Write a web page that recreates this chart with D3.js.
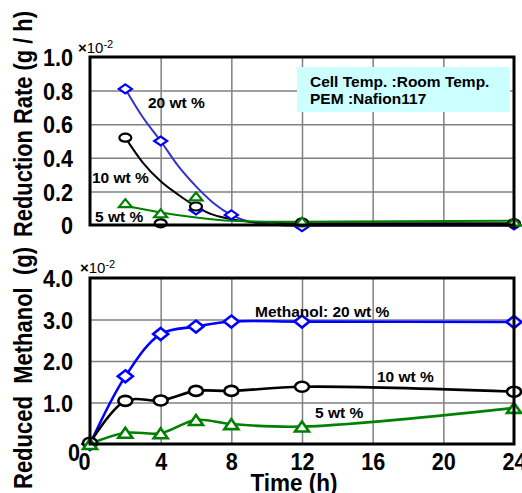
<!DOCTYPE html>
<html>
<head>
<meta charset="utf-8">
<script src="https://cdn.jsdelivr.net/npm/d3@7"></script>
<style>
  body { margin: 0; background: #fff; }
  svg text { font-family: "Liberation Sans", Arial, sans-serif; font-weight: bold; fill: #000; }
</style>
</head>
<body>
<svg class="chart" width="522" height="493"></svg>
<script>
// data (values in units of 10^-2)
let xTicks = [0, 4, 8, 12, 16, 20, 24];
let rateTicks = [0, 0.2, 0.4, 0.6, 0.8, 1.0];
let massTicks = [0, 1, 2, 3, 4];

// top panel: measured reduction rate points
let rate20 = [[2, 0.81], [4, 0.50], [6, 0.09], [8, 0.06], [12, -0.01], [24, 0.0]];
let rate10 = [[2, 0.52], [4, 0.01], [6, 0.11], [12, 0.015], [24, 0.01]];
let rate5 = [[2, 0.13], [4, 0.07], [6, 0.17], [12, 0.02], [24, 0.02]];

// top panel: fitted trend curves as drawn
let fit20 = [[2, 0.81], [3, 0.64], [4, 0.50], [5, 0.35], [6, 0.23], [7, 0.13], [8, 0.06], [9, 0.02], [10, 0.005], [12, -0.005], [24, -0.005]];
let fit10 = [[2, 0.52], [3, 0.37], [4, 0.26], [5, 0.18], [6, 0.11], [7, 0.06], [8, 0.035], [9, 0.02], [10, 0.015], [12, 0.01], [24, 0.01]];
let fit5 = [[2, 0.115], [4, 0.075], [6, 0.045], [8, 0.025], [10, 0.02], [12, 0.02], [24, 0.025]];

// bottom panel: reduced methanol
let mass20 = [[0, 0.0], [2, 1.63], [4, 2.65], [6, 2.83], [8, 2.95], [12, 2.95], [24, 2.94]];
let mass10 = [[0, 0.03], [2, 1.04], [4, 1.05], [6, 1.28], [8, 1.28], [12, 1.38], [24, 1.26]];
let mass5 = [[0, 0.0], [2, 0.27], [4, 0.26], [6, 0.58], [8, 0.48], [12, 0.42], [24, 0.87]];

let blue = '#0000ff';
let blueFit = '#3333cc';
let green = '#008000';

let svg = d3.select('svg.chart');

// scales
let x = d3.scaleLinear().domain([0, 24]).range([90, 514]);
let yTop = d3.scaleLinear().domain([0, 1]).range([225, 57]);
let yBot = d3.scaleLinear().domain([0, 4]).range([444, 278]);

let fmt = d => d === 0 ? '0' : d3.format('.1f')(d);

// marker shapes
function diamond(w, h) { return `M0,${-h}L${w},0L0,${h}L${-w},0Z`; }
function triangle(w, h) { return `M0,${-h}L${w},${h}L${-w},${h}Z`; }

function panel(y, yTicks, top, bottom) {
  let g = svg.append('g');

  // grid through axes
  g.append('g')
    .attr('transform', `translate(0,${bottom})`)
    .call(d3.axisBottom(x).tickValues(xTicks.slice(1, -1)).tickSize(-(bottom - top)).tickFormat(''))
    .call(a => a.select('.domain').remove())
    .selectAll('line').attr('stroke', '#808080').attr('stroke-width', 1.5);

  g.append('g')
    .attr('transform', 'translate(90,0)')
    .call(d3.axisLeft(y).tickValues(yTicks.slice(1, -1)).tickSize(-424).tickFormat(''))
    .call(a => a.select('.domain').remove())
    .selectAll('line').attr('stroke', '#808080').attr('stroke-width', 1.5);

  // y tick labels (font is a touch condensed in the original)
  let ya = g.append('g')
    .attr('transform', 'translate(90,0)')
    .call(d3.axisLeft(y).tickValues(yTicks).tickSize(0).tickPadding(19).tickFormat(fmt));
  ya.select('.domain').remove();
  ya.selectAll('text')
    .attr('font-size', 24).attr('dy', '0.36em')
    .attr('transform', 'scale(0.9,1)')
    .style('font-family', '"Liberation Sans", Arial, sans-serif').style('font-weight', 'bold');

  return g;
}

let gTop = panel(yTop, rateTicks, 57, 225);
let gBot = panel(yBot, massTicks, 278, 444);

// bottom panel's zero label sits a bit lower
gBot.selectAll('text').filter(d => d === 0).attr('transform', 'translate(7,8) scale(0.9,1)');

// x tick labels (bottom panel)
let xa = gBot.append('g')
  .attr('transform', 'translate(0,444)')
  .call(d3.axisBottom(x).tickValues(xTicks).tickSize(0).tickPadding(9).tickFormat(d3.format('d')));
xa.select('.domain').remove();
xa.selectAll('text')
  .attr('font-size', 24)
  .style('font-family', '"Liberation Sans", Arial, sans-serif').style('font-weight', 'bold')
  .attr('transform', d => d === 0 ? 'translate(-6,0) scale(0.9,1)' : 'scale(0.9,1)');

// top panel curves
let fitLine = d3.line().x(d => x(d[0])).y(d => yTop(d[1])).curve(d3.curveMonotoneX);
[[fit20, blueFit], [fit10, '#000'], [fit5, green]].forEach(([data, col]) => {
  gTop.append('path').attr('d', fitLine(data))
    .attr('fill', 'none').attr('stroke', col).attr('stroke-width', 2);
});

// bottom panel lines
let massLine = d3.line().x(d => x(d[0])).y(d => yBot(d[1])).curve(d3.curveCatmullRom.alpha(0.5));
[[mass20, blue], [mass10, '#000'], [mass5, green]].forEach(([data, col]) => {
  gBot.append('path').attr('d', massLine(data))
    .attr('fill', 'none').attr('stroke', col).attr('stroke-width', 2.6);
});

// frames
[[57, 225], [278, 444]].forEach(([t, b]) => {
  svg.append('rect')
    .attr('x', 90).attr('y', t).attr('width', 424).attr('height', b - t)
    .attr('fill', 'none').attr('stroke', '#000').attr('stroke-width', 3);
});

// markers
function markers(g, data, y, kind, col, big) {
  let sel = g.append('g').selectAll('.m').data(data).enter();
  let sw = big ? 2.6 : 2.2;
  if (kind === 'circle') {
    sel.append('ellipse')
      .attr('cx', d => x(d[0])).attr('cy', d => y(d[1]))
      .attr('rx', big ? 7 : 6).attr('ry', big ? 5 : 4)
      .attr('fill', '#fff').attr('stroke', col).attr('stroke-width', sw);
  } else {
    let p = kind === 'diamond' ? (big ? diamond(7.5, 6) : diamond(6.5, 4.5)) : (big ? triangle(7, 5) : triangle(6.5, 4));
    sel.append('path')
      .attr('transform', d => `translate(${x(d[0])},${y(d[1])})`)
      .attr('d', p)
      .attr('fill', '#fff').attr('stroke', col).attr('stroke-width', sw).attr('stroke-linejoin', 'miter');
  }
}

markers(gTop, rate20, yTop, 'diamond', blue, false);
markers(gTop, rate10, yTop, 'circle', '#000', false);
markers(gTop, rate5, yTop, 'triangle', green, false);

markers(gBot, mass20, yBot, 'diamond', blue, true);
markers(gBot, mass10, yBot, 'circle', '#000', true);
markers(gBot, mass5, yBot, 'triangle', green, true);

// series labels
let labels = [
  { t: '20 wt %', x: 148, y: 108 },
  { t: '10 wt %', x: 92, y: 183 },
  { t: '5 wt %', x: 95, y: 222 },
  { t: 'Methanol: 20 wt %', x: 255, y: 317 },
  { t: '10 wt %', x: 377, y: 382 },
  { t: '5 wt %', x: 315, y: 418 }
];
svg.selectAll('text.lab').data(labels).enter().append('text')
  .attr('class', 'lab')
  .attr('x', d => d.x).attr('y', d => d.y)
  .attr('font-size', 15.5)
  .text(d => d.t);

// x10^-2 multipliers
[[78, 53], [80, 273]].forEach(([px, py]) => {
  let t = svg.append('text').attr('x', px).attr('y', py).attr('font-size', 15);
  t.append('tspan').text('\u00d7');
  t.append('tspan').style('font-weight', 'normal').text('10');
  t.append('tspan').attr('dy', -5).attr('font-size', 11).style('font-weight', 'normal').text('-2');
});

// info box
svg.append('rect')
  .attr('x', 297).attr('y', 67).attr('width', 213).attr('height', 45)
  .attr('fill', '#ccffff');
svg.append('text').attr('x', 310).attr('y', 87).attr('font-size', 15.5).text('Cell Temp. :Room Temp.');
svg.append('text').attr('x', 310).attr('y', 104).attr('font-size', 15.5).text('PEM :Nafion117');

// axis titles
svg.append('text')
  .attr('transform', 'translate(32,124) rotate(-90)')
  .attr('text-anchor', 'middle').attr('font-size', 25)
  .attr('textLength', 226).attr('lengthAdjust', 'spacingAndGlyphs')
  .text('Reduction Rate (g / h)');
svg.append('text')
  .attr('transform', 'translate(32,368) rotate(-90)')
  .attr('text-anchor', 'middle').attr('font-size', 25)
  .attr('textLength', 242).attr('lengthAdjust', 'spacingAndGlyphs')
  .style('white-space', 'pre')
  .text('Reduced  Methanol  (g)');
svg.append('text')
  .attr('x', 294).attr('y', 491)
  .attr('text-anchor', 'middle').attr('font-size', 23)
  .attr('textLength', 87).attr('lengthAdjust', 'spacingAndGlyphs')
  .text('Time (h)');
</script>
</body>
</html>
